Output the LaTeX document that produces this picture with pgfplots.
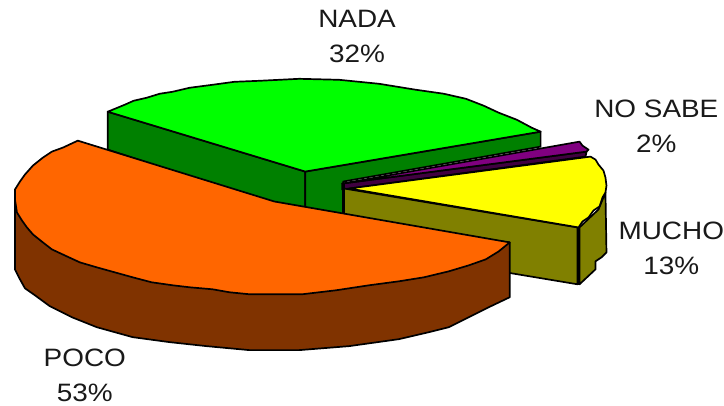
\documentclass[border=0pt]{standalone}
\usepackage{fontspec}
\setmainfont{Liberation Sans}
\newfontfamily\labfont[FakeStretch=1.11]{Liberation Sans}
\usepackage{pgfplots}
\pgfplotsset{compat=1.18}
\definecolor{pocotop}{HTML}{FF6600}
\definecolor{pocoside}{HTML}{803300}
\definecolor{nadatop}{HTML}{00FF00}
\definecolor{nadaside}{HTML}{008000}
\definecolor{muchotop}{HTML}{FFFF00}
\definecolor{muchoside}{HTML}{808000}
\definecolor{nosabetop}{HTML}{800080}
\definecolor{nosabeside}{HTML}{400040}
\tikzset{lab/.style={font=\labfont\fontsize{25.2}{35}\selectfont, align=center, inner sep=0pt, text=black!90}}
\begin{document}
\begin{tikzpicture}
\begin{axis}[
  scale only axis,
  width=724pt,
  height=407pt,
  xmin=0, xmax=724,
  ymin=0, ymax=407,
  y dir=reverse,
  hide axis,
  clip=false,
  every axis plot/.append style={draw=black, line width=1.7pt, line join=round},
]
\path (axis cs:0,0) rectangle (axis cs:724,407);
% NADA slice
\addplot[fill=nadaside] coordinates {(108,112) (306,172) (306,215) (108,150)} -- cycle;
\addplot[fill=nadaside] coordinates {(306,172) (542,132) (542,147) (344,182) (344,215) (306,215)} -- cycle;
\addplot[fill=nadatop] coordinates {(108,112) (125,105) (134,101) (147,98) (160,94) (173,92) (190,88) (213,85) (235,82) (260,81) (300,79) (340,80) (380,84) (417,90) (445,94) (467,99) (485,106) (500,113) (518,120) (533,128) (542,132) (306,172)} -- cycle;
% NO SABE slice
\addplot[fill=nosabeside] coordinates {(343,184) (588,152) (587,157) (343,190)} -- cycle;
\addplot[fill=nosabetop] coordinates {(343,184) (581,142) (584,146) (590,150) (588,152)} -- cycle;
% MUCHO slice
\addplot[fill=muchoside] coordinates {(345,189) (579,228) (579,285) (345,246)} -- cycle;
\addplot[fill=muchoside] coordinates {(581,228) (600,210) (607,193) (608,253) (603,258) (597,262) (597,270) (581,285)} -- cycle;
\addplot[fill=muchotop] coordinates {(350,189) (592,157) (597,160) (600,165) (605,171) (607,178) (608,186) (607,193) (604,198) (601,207) (595,211) (590,218) (584,222) (580,228)} -- cycle;
\addplot[line width=3pt] coordinates {(344,184) (344,214)};
\addplot[line width=2.8pt] coordinates {(580,228) (580,286)};
% POCO slice
\addplot[fill=pocoside] coordinates {(15,190) (15,270) (20,280) (25,289) (35,296) (50,307) (72,318) (97,328) (133,338) (170,343) (207,347) (250,351) (300,351) (350,347) (400,340) (430,333) (450,328) (470,318) (490,308) (511,298) (511,243)} -- cycle;
\addplot[fill=pocotop] coordinates {(78,141) (275,202) (511,243) (500,252) (487,260) (470,266) (450,272) (425,278) (400,282) (370,286) (337,291) (320,293) (303,295) (275,295) (250,295) (230,293) (213,290) (190,288) (173,286) (152,283) (133,278) (115,273) (97,268) (80,263) (67,257) (52,250) (43,243) (33,235) (27,228) (22,221) (17,213) (15,200) (15,190) (20,182) (25,175) (33,166) (43,158) (52,152) (63,148)} -- cycle;
% labels
\node[lab] at (axis cs:358,37) {NADA\\32\%};
\node[lab] at (axis cs:658,127) {NO SABE\\2\%};
\node[lab] at (axis cs:673,249) {MUCHO\\13\%};
\node[lab] at (axis cs:85,376.5) {POCO\\53\%};
\end{axis}
\end{tikzpicture}
\end{document}
